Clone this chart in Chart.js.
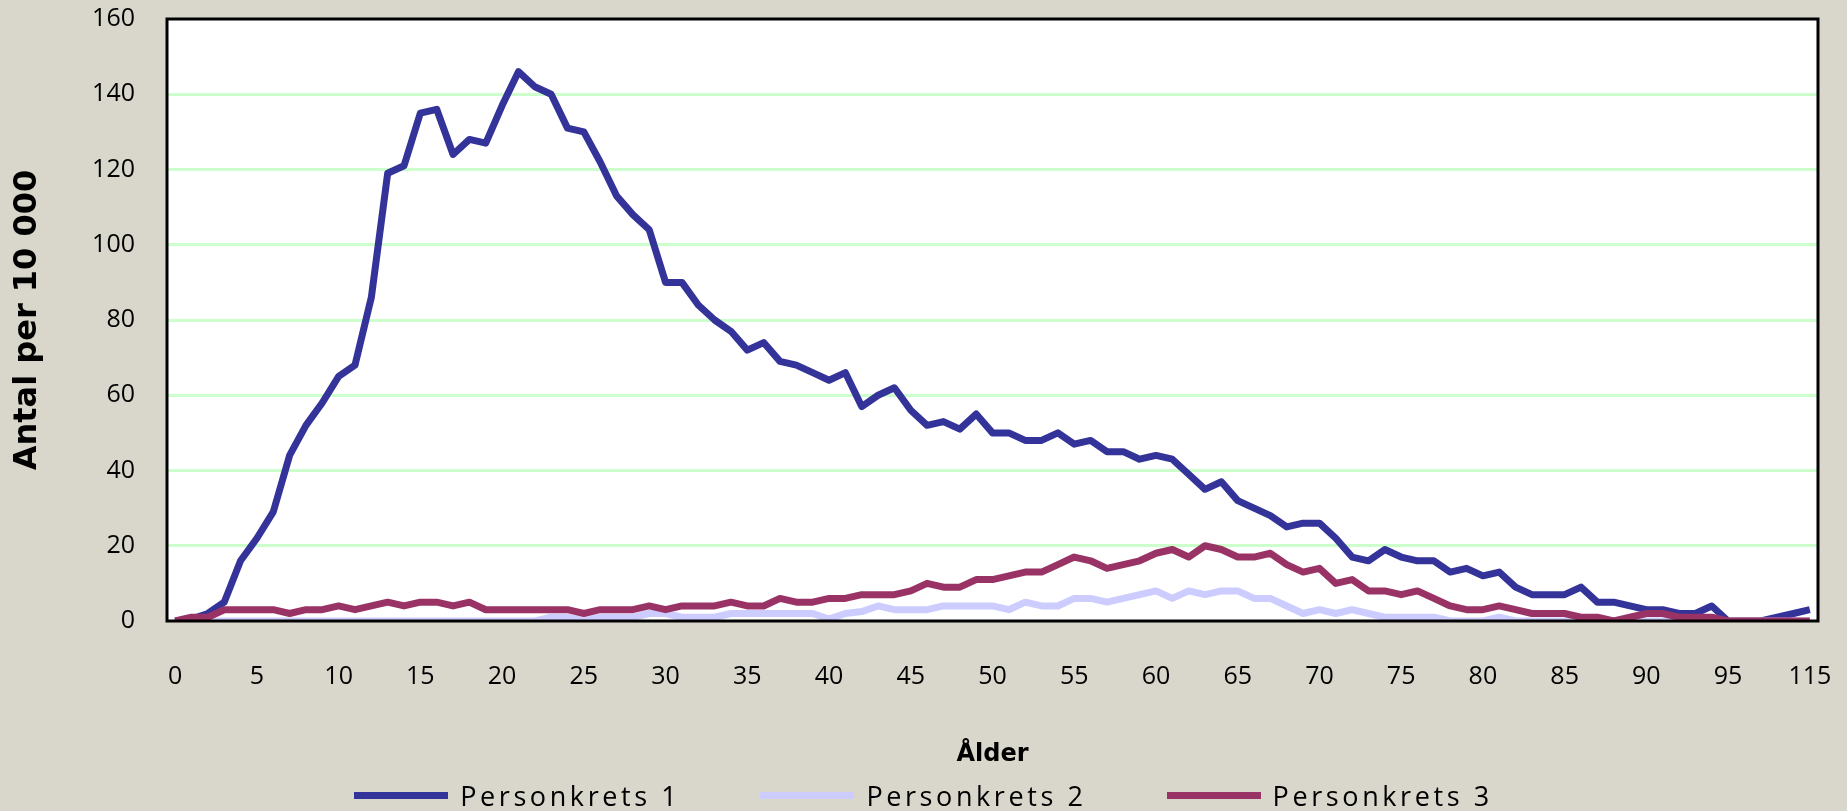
<!DOCTYPE html>
<html>
<head>
<meta charset="utf-8">
<title>Antal per 10 000 efter ålder</title>
<script src="https://cdn.jsdelivr.net/npm/chart.js@4.4.1/dist/chart.umd.min.js"></script>
<style>
  body { margin: 0; background: #d9d7cb; }
  #wrap { position: relative; width: 1847px; height: 811px; }
  #legend {
    position: absolute; left: 0; top: 778px; width: 1847px; height: 34px;
    display: flex; justify-content: center; align-items: center; gap: 80px;
    font-family: "Open Sans"; font-size: 27px; color: #000;
  }
  .item { display: flex; align-items: center; }
  .swatch { width: 94px; height: 7px; margin-right: 12px; }
  .label { letter-spacing: 3.6px; white-space: nowrap; }
</style>
</head>
<body>
<div id="wrap">
  <canvas id="chart" width="1847" height="811"></canvas>
  <div id="legend"></div>
</div>
<script>

// ages on the x axis (the last one is the 115 group)
var ages = ['0','1','2','3','4','5','6','7','8','9',
  '10','11','12','13','14','15','16','17','18','19',
  '20','21','22','23','24','25','26','27','28','29',
  '30','31','32','33','34','35','36','37','38','39',
  '40','41','42','43','44','45','46','47','48','49',
  '50','51','52','53','54','55','56','57','58','59',
  '60','61','62','63','64','65','66','67','68','69',
  '70','71','72','73','74','75','76','77','78','79',
  '80','81','82','83','84','85','86','87','88','89',
  '90','91','92','93','94','95','96','97','98','99',
  '115'];

// antal per 10 000
var personkrets1 = [0,0.5,2,5,16,22,29,44,52,58,
  65,68,86,119,121,135,136,124,128,127,
  137,146,142,140,131,130,122,113,108,104,
  90,90,84,80,77,72,74,69,68,66,
  64,66,57,60,62,56,52,53,51,55,
  50,50,48,48,50,47,48,45,45,43,
  44,43,39,35,37,32,30,28,25,26,
  26,22,17,16,19,17,16,16,13,14,
  12,13,9,7,7,7,9,5,5,4,
  3,3,2,2,4,0,0,0,1,2,
  3];

var personkrets2 = [0,0,0,0,0,0,0,0,0,0,
  0,0,0,0,0,0,0,0,0,0,
  0,0,0,1,1,0,1,1,1,2,
  2,1,1,1,2,2,2,2,2,2,
  0.5,2,2.5,4,3,3,3,4,4,4,
  4,3,5,4,4,6,6,5,6,7,
  8,6,8,7,8,8,6,6,4,2,
  3,2,3,2,1,1,1,1,0,0,
  0,1,0,0,0,0,0,0,0,0,
  0,0,0,0,0,0,0,0,0,0,
  0];

var personkrets3 = [0,1,1,3,3,3,3,2,3,3,
  4,3,4,5,4,5,5,4,5,3,
  3,3,3,3,3,2,3,3,3,4,
  3,4,4,4,5,4,4,6,5,5,
  6,6,7,7,7,8,10,9,9,11,
  11,12,13,13,15,17,16,14,15,16,
  18,19,17,20,19,17,17,18,15,13,
  14,10,11,8,8,7,8,6,4,3,
  3,4,3,2,2,2,1,1,0,1,
  2,2,1,1,1,0,0,0,0,0,
  0];

var seriesNames = ['Personkrets 1', 'Personkrets 2', 'Personkrets 3'];
var seriesColors = ['#333399', '#ccccff', '#993366'];
var yTicks = [0, 20, 40, 60, 80, 100, 120, 140, 160];


/*
* white plot area and the black frame round it
*/
var plotFrame = {
  id: 'plotFrame',
  beforeDraw: function(chart) {
    var a = chart.chartArea, ctx = chart.ctx;
    ctx.save();
    ctx.fillStyle = '#ffffff';
    ctx.fillRect(a.left, a.top, a.right - a.left, a.bottom - a.top);
    ctx.restore();
  },
  afterDatasetsDraw: function(chart) {
    var a = chart.chartArea, ctx = chart.ctx;
    ctx.save();
    ctx.strokeStyle = '#000000';
    ctx.lineWidth = 3;
    ctx.strokeRect(a.left, a.top, a.right - a.left, a.bottom - a.top);
    ctx.restore();
  }
};


/*
* build one line dataset
*
* @param i index of the series
* @param values
*/
function makeDataset(i, values){
  return {
    label: seriesNames[i],
    data: values,
    borderColor: seriesColors[i],
    backgroundColor: seriesColors[i],
    borderWidth: 7,
    borderJoinStyle: 'round',
    pointRadius: 0,
    tension: 0,
    clip: 0,
    order: 3 - i   // Personkrets 3 on top, like the original
  };
}


// legend under the chart
function displayLegend(){
  var html = '';
  for (var i = 0; i < seriesNames.length; i++) {
    html += '<div class="item"><span class="swatch" style="background:' + seriesColors[i] +
      '"></span><span class="label">' + seriesNames[i] + '</span></div>';
  }
  document.getElementById('legend').innerHTML = html;
}


var chart = new Chart(document.getElementById('chart'), {
  type: 'line',
  data: {
    labels: ages,
    datasets: [makeDataset(0, personkrets1), makeDataset(1, personkrets2), makeDataset(2, personkrets3)]
  },
  plugins: [plotFrame],
  options: {
    responsive: false,
    animation: false,
    layout: { padding: { top: 19, right: 29, bottom: 41, left: 0 } },
    plugins: {
      legend: { display: false },
      tooltip: { enabled: false }
    },
    scales: {
      x: {
        offset: true,
        grid: { display: false, drawTicks: false },
        border: { display: false },
        afterFit: function(scale) {
          scale.height = 149;
          scale.paddingLeft = 0;
          scale.paddingRight = 0;
        },
        ticks: {
          autoSkip: false,
          maxRotation: 0,
          padding: 41,
          color: '#000',
          font: { family: 'Open Sans', size: 25 },
          callback: function(val, i) { return i % 5 === 0 ? this.getLabelForValue(val) : ''; }
        },
        title: {
          display: true,
          text: 'Ålder',
          color: '#000',
          font: { family: 'DejaVu Sans', size: 24, weight: 'bold' },
          padding: { top: 0, bottom: 1 }
        }
      },
      y: {
        min: 0,
        max: 160,
        afterFit: function(scale) {
          scale.width = 167;
          scale.paddingTop = 0;
          scale.paddingBottom = 0;
        },
        afterBuildTicks: function(scale) {
          scale.ticks = yTicks.map(function(v) { return { value: v }; });
        },
        grid: {
          drawTicks: false,
          lineWidth: 3,
          color: function(c) { return (c.tick.value === 0 || c.tick.value === 160) ? 'rgba(0,0,0,0)' : '#ccffcc'; }
        },
        border: { display: false },
        ticks: {
          padding: 32,
          color: '#000',
          font: { family: 'Open Sans', size: 25 }
        },
        title: {
          display: true,
          text: 'Antal per 10 000',
          color: '#000',
          font: { family: 'DejaVu Sans', size: 32, weight: 'bold' },
          padding: { top: 8, bottom: 0 }
        }
      }
    }
  }
});

displayLegend();
</script>
</body>
</html>
